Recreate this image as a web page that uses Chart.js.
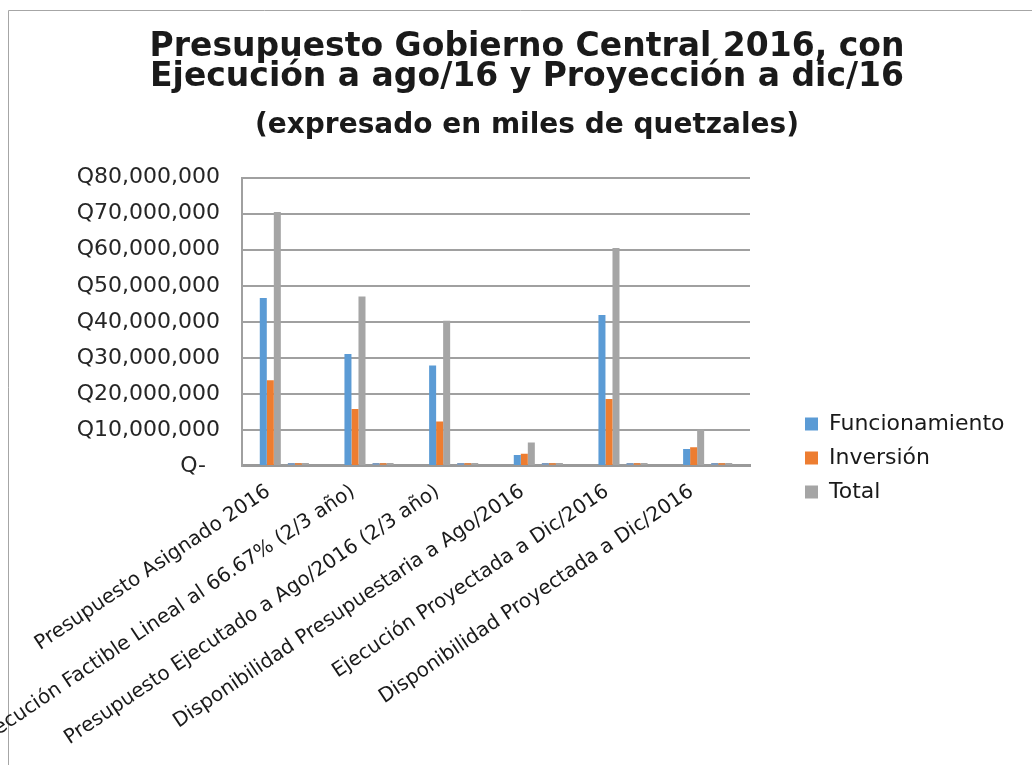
<!DOCTYPE html>
<html>
<head>
<meta charset="utf-8">
<script src="https://cdn.jsdelivr.net/npm/chart.js@4.4.1/dist/chart.umd.min.js"></script>
<style>
  html, body { margin: 0; padding: 0; background: #ffffff; }
  #wrap { width: 1032px; height: 765px; position: relative; }
</style>
</head>
<body>
<div id="wrap"><canvas id="c"></canvas></div>
<script>
// ---- data ----
const titleLines = ['Presupuesto Gobierno Central 2016, con', 'Ejecución a ago/16 y Proyección a dic/16'];
const subtitleText = '(expresado en miles de quetzales)';
const categories = [
  'Presupuesto Asignado 2016',
  'Ejecución Factible Lineal al 66.67% (2/3 año)',
  'Presupuesto Ejecutado a Ago/2016 (2/3 año)',
  'Disponibilidad Presupuestaria a Ago/2016',
  'Ejecución Proyectada a Dic/2016',
  'Disponibilidad Proyectada a Dic/2016'
];
const seriesNames = ['Funcionamiento', 'Inversión', 'Total'];
const funcionamiento = [46600000, 31100000, 27900000, 3000000, 41900000, 4700000];
const inversion      = [23800000, 15800000, 12300000, 3400000, 18600000, 5200000];
const total          = [70500000, 47000000, 40300000, 6500000, 60500000, 10100000];
// unlabeled columns of the source table: one empty, three at (near) zero
const columnaVacia = [null, null, null, null, null, null];
const ceroA = [0, 0, 0, 0, 0, 0];
const ceroB = [0, 0, 0, 0, 0, 0];
const ceroC = [0, 0, 0, 0, 0, 0];
const yTickValues = [0, 10000000, 20000000, 30000000, 40000000, 50000000, 60000000, 70000000, 80000000];
const yTickLabels = ['Q-  ', 'Q10,000,000', 'Q20,000,000', 'Q30,000,000', 'Q40,000,000', 'Q50,000,000', 'Q60,000,000', 'Q70,000,000', 'Q80,000,000'];

// ---- styles ----
const colors = ['#5B9BD5', '#ED7D31', '#A5A5A5'];
const zeroColors = ['#7F9CBF', '#D9884F', '#A5A5A5'];

const legendPlacement = {
  id: 'legendPlacement',
  beforeLayout(chart) {
    const lg = chart.legend;
    if (lg && !lg._wrapped) {
      lg._wrapped = true;
      const origFit = lg.fit;
      lg.fit = function () { origFit.call(this); this.width = 282; };
    }
  },
  afterLayout(chart) {
    const lg = chart.legend;
    if (!lg) return;
    lg.left += 43; lg.right += 43;
    lg.top = 401;
  }
};

const frame = {
  id: 'frame',
  beforeDraw(chart) {
    const ctx = chart.ctx;
    ctx.save();
    ctx.strokeStyle = '#a6a6a6';
    ctx.lineWidth = 1;
    ctx.beginPath();
    ctx.moveTo(8.5, 765);
    ctx.lineTo(8.5, 10.5);
    ctx.lineTo(1032, 10.5);
    ctx.stroke();
    ctx.restore();
  }
};

const ds = (label, data, color, extra) => Object.assign({
  label, data, backgroundColor: color, borderWidth: 0,
  barPercentage: 1, categoryPercentage: 0.58
}, extra || {});

new Chart(document.getElementById('c'), {
  type: 'bar',
  data: {
    labels: categories,
    datasets: [
      ds(seriesNames[0], funcionamiento, colors[0]),
      ds(seriesNames[1], inversion, colors[1]),
      ds(seriesNames[2], total, colors[2]),
      ds('', columnaVacia, 'rgba(0,0,0,0)'),
      ds('', ceroA, zeroColors[0], { minBarLength: 3 }),
      ds('', ceroB, zeroColors[1], { minBarLength: 3 }),
      ds('', ceroC, zeroColors[2], { minBarLength: 3 })
    ]
  },
  options: {
    responsive: true,
    maintainAspectRatio: false,
    animation: false,
    layout: { padding: { left: 22, right: 0, top: 0, bottom: 0 } },
    plugins: {
      title: {
        display: true,
        text: titleLines,
        color: '#1a1a1a',
        font: { family: 'DejaVu Sans', weight: 'bold', size: 33, lineHeight: 0.92 },
        padding: { top: 32, bottom: 6 }
      },
      subtitle: {
        display: true,
        text: subtitleText,
        color: '#1a1a1a',
        font: { family: 'DejaVu Sans', weight: 'bold', size: 28, lineHeight: 1.0 },
        padding: { top: 13, bottom: 38 }
      },
      legend: {
        position: 'right',
        align: 'start',
        labels: {
          filter: (item) => item.text !== '',
          color: '#1a1a1a',
          font: { family: 'DejaVu Sans', size: 22 },
          boxWidth: 13,
          boxHeight: 13,
          padding: 12
        }
      },
      tooltip: { enabled: false }
    },
    scales: {
      x: {
        grid: { display: false, drawTicks: false },
        border: { display: true, color: '#9a9a9a', width: 3 },
        ticks: {
          autoSkip: false,
          minRotation: 34,
          maxRotation: 34,
          padding: 14,
          labelOffset: -16,
          color: '#1a1a1a',
          font: { family: 'DejaVu Sans', size: 20 }
        }
      },
      y: {
        min: 0,
        max: 80000000,
        afterFit: (scale) => { scale.width = 220; },
        afterBuildTicks: (scale) => { scale.ticks = yTickValues.map(v => ({ value: v })); },
        grid: { color: '#a0a0a0', lineWidth: 2, drawTicks: false },
        border: { display: true, color: '#a0a0a0', width: 2 },
        ticks: {
          padding: 22,
          color: '#262626',
          font: { family: 'DejaVu Sans', size: 22 },
          callback: (v) => yTickLabels[yTickValues.indexOf(v)]
        }
      }
    }
  },
  plugins: [legendPlacement, frame]
});
</script>
</body>
</html>
